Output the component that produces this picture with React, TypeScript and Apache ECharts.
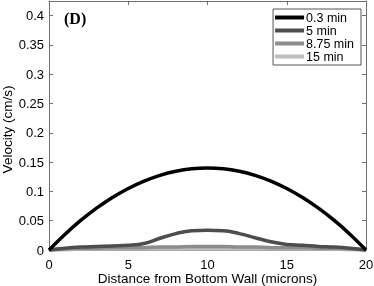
import React, { useEffect, useRef } from "react";
import * as echarts from "echarts";

const xs = [0, 1, 2, 3, 4, 5, 6, 7, 8, 9, 10, 11, 12, 13, 14, 15, 16, 17, 18, 19, 20];
const seriesNames = ["0.3 min", "5 min", "8.75 min", "15 min"];
const v03 = [0, 0.0266, 0.0504, 0.0714, 0.0896, 0.105, 0.1176, 0.1274, 0.1344, 0.1386, 0.14, 0.1386, 0.1344, 0.1274, 0.1176, 0.105, 0.0896, 0.0714, 0.0504, 0.0266, 0];
const v5 = [0, 0.003, 0.005, 0.006, 0.007, 0.008, 0.011, 0.020, 0.028, 0.033, 0.0335, 0.033, 0.028, 0.021, 0.014, 0.0095, 0.008, 0.006, 0.005, 0.003, 0];
const v875 = [0, 0.002, 0.003, 0.003, 0.004, 0.004, 0.004, 0.005, 0.005, 0.006, 0.006, 0.006, 0.005, 0.005, 0.004, 0.004, 0.004, 0.003, 0.003, 0.002, 0];
const v15 = [0, 0.001, 0.002, 0.002, 0.002, 0.002, 0.002, 0.002, 0.002, 0.002, 0.002, 0.002, 0.002, 0.002, 0.002, 0.002, 0.002, 0.002, 0.002, 0.001, 0];
const colors = ["#000000", "#4d4d4d", "#8c8c8c", "#bdbdbd"];
const widths = [3.5, 3.5, 3.5, 4];
const xTitle = "Distance from Bottom Wall (microns)";
const yTitle = "Velocity (cm/s)";
const panelLabel = "(D)";

const FONT = "Liberation Sans";

export default function App() {
  const ref = useRef<HTMLDivElement>(null);
  useEffect(() => {
    const chart = echarts.init(ref.current!, null, { renderer: "svg" });
    const values = [v03, v5, v875, v15];
    const axisLine = { show: true, onZero: false, lineStyle: { color: "#6e6e6e", width: 1 } };
    const tick = { show: true, inside: true, length: 4, lineStyle: { color: "#6e6e6e" } };
    chart.setOption({
      animation: false,
      grid: { left: 49, right: 8, top: 1, bottom: 36, containLabel: false, outerBoundsMode: "none" },
      legend: {
        data: seriesNames,
        orient: "vertical",
        right: 13,
        top: 9,
        icon: "rect",
        itemWidth: 29,
        itemHeight: 4,
        itemGap: 0,
        padding: [2, 7, 2, 2],
        backgroundColor: "#fff",
        borderColor: "#555",
        borderWidth: 1,
        borderRadius: 0,
        textStyle: { fontFamily: FONT, fontSize: 12.5, color: "#000", lineHeight: 13, padding: [0, 0, 0, -3] },
      },
      xAxis: [
        {
          type: "value", min: 0, max: 20, interval: 5,
          axisLine, axisTick: tick, splitLine: { show: false },
          axisLabel: { fontFamily: FONT, fontSize: 13, color: "#000", margin: 8 },
          name: xTitle, nameLocation: "middle", nameGap: 21, nameMoveOverlap: false,
          nameTextStyle: { fontFamily: FONT, fontSize: 13.5, color: "#000" },
        },
        {
          type: "value", min: 0, max: 20, interval: 5, position: "top",
          axisLine, axisTick: tick, axisLabel: { show: false }, splitLine: { show: false },
        },
      ],
      yAxis: [
        {
          type: "value", min: 0, max: 0.425, interval: 0.05,
          axisLine, axisTick: tick, splitLine: { show: false },
          axisLabel: {
            fontFamily: FONT, fontSize: 13, color: "#000", margin: 5,
            formatter: (v: number) => (v > 0.41 ? "" : String(Math.round(v * 100) / 100)),
          },
          name: yTitle, nameLocation: "middle", nameGap: 35, nameMoveOverlap: false,
          nameTextStyle: { fontFamily: FONT, fontSize: 13.5, color: "#000", padding: [0, 0, 0, -8] },
        },
        {
          type: "value", min: 0, max: 0.425, interval: 0.05, position: "right",
          axisLine, axisTick: tick, axisLabel: { show: false }, splitLine: { show: false },
        },
      ],
      graphic: [
        {
          type: "text", left: 64, top: 10,
          style: { text: panelLabel, font: "bold 16px 'Liberation Serif'", fill: "#000" },
        },
      ],
      series: values.map((arr, i) => ({
        name: seriesNames[i],
        type: "line",
        data: xs.map((x, j) => [x, arr[j]]),
        smooth: 0.4,
        showSymbol: false,
        color: colors[i],
        lineStyle: { width: widths[i], color: colors[i] },
        z: 10 - i,
      })),
    });
    return () => chart.dispose();
  }, []);
  return <div ref={ref} style={{ position: "fixed", left: 0, top: 0, width: 374, height: 286 }} />;
}
